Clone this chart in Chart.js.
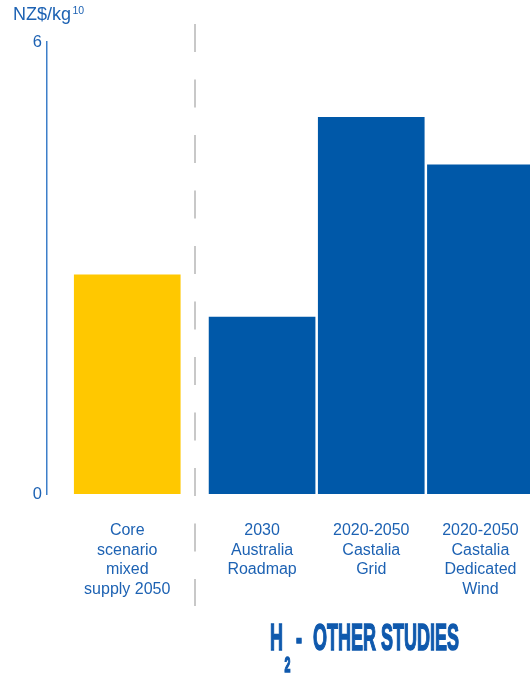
<!DOCTYPE html>
<html>
<head>
<meta charset="utf-8">
<script src="https://cdn.jsdelivr.net/npm/chart.js@4/dist/chart.umd.min.js"></script>
<style>
  html, body { margin: 0; padding: 0; background: #fff; overflow: hidden; }
  #wrap { position: relative; width: 535px; height: 677px; }
</style>
</head>
<body>
<div id="wrap"><canvas id="c" width="535" height="677"></canvas></div>
<script>
// Levelised hydrogen cost, NZ$/kg
const coreLabels = [['Core', 'scenario', 'mixed', 'supply 2050']];
const coreValues = [2.91];

const studyLabels = [
  ['2030', 'Australia', 'Roadmap'],
  ['2020-2050', 'Castalia', 'Grid'],
  ['2020-2050', 'Castalia', 'Dedicated', 'Wind']
];
const studyValues = [2.35, 5.0, 4.37];

const yTicks = [0, 6];
const yUnit = 'NZ$/kg';
const yUnitNote = '10';
const studiesTitle = { main: 'H', sub: '2', dash: '-', rest: 'OTHER STUDIES' };

const FONT = '"Liberation Sans", Arial, Helvetica, sans-serif';
const TEXT_BLUE = '#1d62b3';
const BAR_BLUE = '#0058a8';
const BAR_YELLOW = '#ffc800';

const zeroPadding = (scale) => {
  scale.paddingLeft = 0; scale.paddingRight = 0;
  scale.paddingTop = 0; scale.paddingBottom = 0;
};

// Dashed separator between the core scenario and the other studies
const separator = {
  id: 'separator',
  beforeDatasetsDraw(chart) {
    const a = chart.getDatasetMeta(0).data[0];
    const b = chart.getDatasetMeta(1).data[0];
    const x = Math.round(((a.x + a.width / 2) + (b.x - b.width / 2)) / 2);
    const ctx = chart.ctx;
    ctx.save();
    ctx.strokeStyle = '#c8c8c8';
    ctx.lineWidth = 2;
    ctx.setLineDash([28, 27.5]);
    ctx.beginPath();
    ctx.moveTo(x, 24);
    ctx.lineTo(x, 606);
    ctx.stroke();
    ctx.restore();
  }
};

// Unit label above the value axis and group heading under the studies
const headings = {
  id: 'headings',
  afterDraw(chart) {
    const ctx = chart.ctx;
    ctx.save();
    ctx.fillStyle = TEXT_BLUE;
    ctx.textBaseline = 'alphabetic';
    ctx.textAlign = 'left';
    ctx.font = '18px ' + FONT;
    ctx.fillText(yUnit, 13, 19.5);
    const w = ctx.measureText(yUnit).width;
    ctx.font = '10.5px ' + FONT;
    ctx.fillText(yUnitNote, 13 + w + 1.5, 14);

    // condensed bold heading
    ctx.fillStyle = '#0f59ad';
    ctx.strokeStyle = '#0f59ad';
    ctx.lineWidth = 1.5;
    const big = 'bold 37px ' + FONT;
    ctx.font = big;
    const s = 146 / ctx.measureText(studiesTitle.rest).width;
    const draw = (txt, x, y, font) => {
      ctx.font = font;
      ctx.save();
      ctx.translate(x, y);
      ctx.scale(s, 1);
      ctx.fillText(txt, 0, 0);
      ctx.strokeText(txt, 0, 0);
      ctx.restore();
    };
    draw(studiesTitle.main, 270, 650, big);
    draw(studiesTitle.sub, 284.5, 672, 'bold 22px ' + FONT);
    draw(studiesTitle.dash, 296, 650, big);
    draw(studiesTitle.rest, 313, 650, big);
    ctx.restore();
  }
};

const xTickFont = { family: FONT, size: 16, lineHeight: 1.22 };

new Chart(document.getElementById('c'), {
  type: 'bar',
  data: {
    datasets: [
      {
        data: coreValues,
        xAxisID: 'xc',
        backgroundColor: BAR_YELLOW,
        barThickness: 106,
        grouped: false
      },
      {
        data: studyValues,
        xAxisID: 'xs',
        backgroundColor: BAR_BLUE,
        barThickness: 106,
        grouped: false
      }
    ]
  },
  options: {
    responsive: false,
    animation: false,
    devicePixelRatio: 1,
    layout: { padding: { top: 42, left: 0, right: 0, bottom: 0 } },
    plugins: {
      legend: { display: false },
      tooltip: { enabled: false },
      title: { display: false }
    },
    scales: {
      xc: {
        type: 'category',
        labels: coreLabels,
        position: 'bottom',
        stack: 'x',
        stackWeight: 160.5,
        offset: true,
        grid: { display: false, drawTicks: false },
        border: { display: false },
        ticks: { color: TEXT_BLUE, font: xTickFont, padding: 27, maxRotation: 0, autoSkip: false },
        afterFit(scale) { scale.height = 183; zeroPadding(scale); }
      },
      xs: {
        type: 'category',
        labels: studyLabels,
        position: 'bottom',
        stack: 'x',
        stackWeight: 327.5,
        offset: true,
        grid: { display: false, drawTicks: false },
        border: { display: false },
        ticks: { color: TEXT_BLUE, font: xTickFont, padding: 27, maxRotation: 0, autoSkip: false },
        afterFit(scale) { scale.height = 183; zeroPadding(scale); }
      },
      y: {
        min: yTicks[0],
        max: yTicks[yTicks.length - 1],
        grid: { display: false, drawTicks: false },
        border: { display: true, color: '#3d7fc9', width: 1.5 },
        ticks: { color: TEXT_BLUE, font: { family: FONT, size: 16.5 }, padding: 5 },
        afterBuildTicks(scale) { scale.ticks = yTicks.map(v => ({ value: v })); },
        afterFit(scale) { scale.width = 47; zeroPadding(scale); }
      }
    }
  },
  plugins: [separator, headings]
});
</script>
</body>
</html>
